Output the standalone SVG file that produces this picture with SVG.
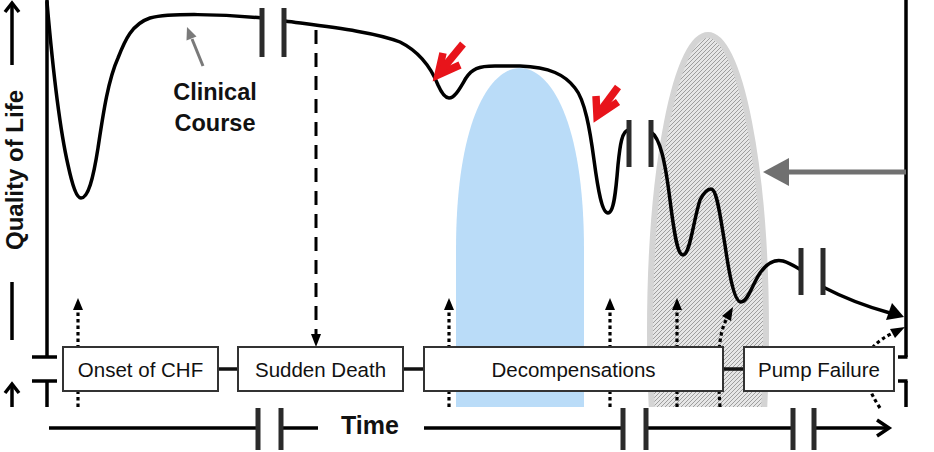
<svg xmlns="http://www.w3.org/2000/svg" width="934" height="452" viewBox="0 0 934 452">
<style>
.ax{stroke:#000;stroke-width:3.5;fill:none}
.curve{stroke:#000;stroke-width:3.5;fill:none;stroke-linecap:round;stroke-linejoin:round}
.brk{stroke:#2b2b2b;stroke-width:5;fill:none}
.dot{stroke:#000;stroke-width:3.2;fill:none;stroke-dasharray:3.5 3}
.box{fill:#fff;stroke:#333;stroke-width:2}
.lbl{font-family:"Liberation Sans",Arial,sans-serif;font-size:20.5px;fill:#111}
.bold{font-family:"Liberation Sans",Arial,sans-serif;font-weight:bold;fill:#111}
.red{stroke:#e8141b;stroke-width:7.5;fill:none;stroke-linecap:butt;stroke-linejoin:miter}
</style>
<defs>
<pattern id="hatch" width="4" height="4" patternUnits="userSpaceOnUse">
<rect width="4" height="4" fill="#e6e6e6"/>
<path d="M-1,1 l2,-2 M0,4 l4,-4 M3,5 l2,-2" stroke="#8c8c8c" stroke-width="0.8"/>
</pattern>
<clipPath id="clipB"><rect x="0" y="0" width="934" height="407"/></clipPath>
</defs>
<rect width="934" height="452" fill="#fff"/>

<g id="blue-region">
<path d="M456,407 L456,250 C456,120 490,68 520,68 C550,68 584,120 584,250 L584,407 Z" fill="#badcf8"/>
</g>
<g id="hatched-region" clip-path="url(#clipB)">
<ellipse cx="708" cy="332" rx="58" ry="297" fill="url(#hatch)" stroke="#d4d4d4" stroke-width="6"/>
</g>

<g id="axes">
<line class="ax" x1="47" y1="0" x2="47" y2="357"/>
<line class="ax" x1="32" y1="357" x2="57" y2="357"/>
<line class="ax" x1="32" y1="381" x2="57" y2="381"/>
<line class="ax" x1="47" y1="381" x2="47" y2="407"/>
<line class="ax" x1="906" y1="0" x2="906" y2="357"/>
<line class="ax" x1="898" y1="357" x2="907.5" y2="357"/>
<line class="ax" x1="898" y1="381" x2="907.5" y2="381"/>
<line class="ax" x1="906" y1="381" x2="906" y2="407"/>
<g id="y-label">
<line class="ax" x1="12" y1="65" x2="12" y2="4"/>
<polyline class="ax" points="5,12 12,3 19,12"/>
<line class="ax" x1="12" y1="282" x2="12" y2="340"/>
<line class="ax" x1="12" y1="407" x2="12" y2="386"/>
<polyline class="ax" points="5,393 12,384 19,393"/>
<text class="bold" font-size="24" text-anchor="middle" transform="translate(23,170) rotate(-90)">Quality of Life</text>
</g>
<g id="time-axis">
<line class="ax" x1="49" y1="428" x2="258" y2="428"/>
<line class="ax" x1="281" y1="428" x2="318" y2="428"/>
<line class="ax" x1="424" y1="428" x2="623" y2="428"/>
<line class="ax" x1="646" y1="428" x2="793" y2="428"/>
<line class="ax" x1="814" y1="428" x2="888" y2="428"/>
<polyline class="ax" points="877,420 889,428 877,436"/>
<line class="brk" x1="258" y1="408" x2="258" y2="450"/>
<line class="brk" x1="281" y1="408" x2="281" y2="450"/>
<line class="brk" x1="623" y1="408" x2="623" y2="450"/>
<line class="brk" x1="646" y1="408" x2="646" y2="450"/>
<line class="brk" x1="793" y1="408" x2="793" y2="450"/>
<line class="brk" x1="814" y1="408" x2="814" y2="450"/>
<text class="bold" font-size="25" x="370" y="434" text-anchor="middle">Time</text>
</g>
</g>

<g id="clinical-course">
<path class="curve" d="M47,2 C52,60 60,130 68,165 C73,188 77,198 81,198 C88,198 93,180 98,148 C103,115 108,80 118,58 C125,40 132,24 150,18 C170,13 220,14 262,18"/>
<path class="curve" d="M285,21 C330,27 375,32 400,42 C420,52 432,70 438,85 C442,94 445,98 449,98 C455,98 460,88 466,78 C472,69 478,66 495,66 L520,66 C550,67 565,75 575,88 C585,100 590,130 594,160 C598,190 602,213 608,213 C614,213 616,190 618,165 C620,145 622,130 629,130"/>
<path class="curve" d="M651,132 C660,138 665,160 670,200 C675,240 678,255 683,255 C690,255 693,222 700,200 C704,192 707,189 711,189 C717,189 720,215 725,245 C730,280 735,302 741,302 C748,302 752,285 760,273 C767,263 775,259 783,261 C790,263 796,267 801,270"/>
<path class="curve" d="M823,287 C848,300 868,307 890,313"/>
<polygon points="904,317 886,320 892,303" fill="#000"/>
<line class="brk" x1="262" y1="8" x2="262" y2="57"/>
<line class="brk" x1="284" y1="8" x2="284" y2="57"/>
<line class="brk" x1="629" y1="120" x2="629" y2="167"/>
<line class="brk" x1="651" y1="120" x2="651" y2="167"/>
<line class="brk" x1="801" y1="248" x2="801" y2="295"/>
<line class="brk" x1="823" y1="248" x2="823" y2="295"/>
<text class="bold" font-size="23.5" x="215" y="100" text-anchor="middle" fill="#222">Clinical</text>
<text class="bold" font-size="23.5" x="215" y="131" text-anchor="middle" fill="#222">Course</text>
<line x1="203" y1="66" x2="192" y2="39" stroke="#7a7a7a" stroke-width="3"/>
<polygon points="187,27 196.5,36.5 186.5,40.5" fill="#7a7a7a"/>
</g>

<g id="markers">
<polyline class="red" points="443,53 438,75 460,65"/>
<line class="red" x1="440" y1="72" x2="463" y2="44"/>
<polyline class="red" points="596,96 597,116 618,102"/>
<line class="red" x1="598" y1="114" x2="618" y2="87"/>
<line x1="906" y1="172" x2="786" y2="172" stroke="#707070" stroke-width="5"/>
<polygon points="763,172 789,158 789,186" fill="#707070"/>
</g>

<g id="connectors">
<path class="dot" d="M78,407 L78,310"/>
<polygon points="78,298 73,310 83,310" fill="#000"/>
<path class="dot" d="M449,407 L449,310"/>
<polygon points="449,298 444,310 454,310" fill="#000"/>
<path class="dot" d="M610,407 L610,310"/>
<polygon points="610,298 605,310 615,310" fill="#000"/>
<path class="dot" d="M677,407 L677,310"/>
<polygon points="677,298 672,310 682,310" fill="#000"/>
<path class="dot" d="M720,407 C717,360 718,335 727,318"/>
<polygon points="733,307 731,321 722,316" fill="#000"/>
<path class="dot" d="M880,408 Q845,355 893,333"/>
<polygon points="905,327 895,338 890,329" fill="#000"/>
<path d="M316,30 L316,336" stroke="#000" stroke-width="3" stroke-dasharray="14 9" fill="none"/>
<polygon points="316,347 311,334 321,334" fill="#000"/>
<line x1="218" y1="369" x2="238" y2="369" stroke="#111" stroke-width="3.5"/>
<line x1="403" y1="369" x2="424" y2="369" stroke="#111" stroke-width="3.5"/>
<line x1="723" y1="369" x2="744" y2="369" stroke="#111" stroke-width="3.5"/>
</g>

<g id="onset">
<rect class="box" x="63" y="347" width="155" height="44"/>
<text class="lbl" x="140.5" y="377" text-anchor="middle">Onset of CHF</text>
</g>
<g id="sudden-death">
<rect class="box" x="238" y="347" width="165" height="44"/>
<text class="lbl" x="320.5" y="377" text-anchor="middle">Sudden Death</text>
</g>
<g id="decompensations">
<rect class="box" x="424" y="347" width="299" height="44"/>
<text class="lbl" x="573.5" y="377" text-anchor="middle">Decompensations</text>
</g>
<g id="pump-failure">
<rect class="box" x="744" y="347" width="150" height="44"/>
<text class="lbl" x="819" y="377" text-anchor="middle">Pump Failure</text>
</g>
</svg>
